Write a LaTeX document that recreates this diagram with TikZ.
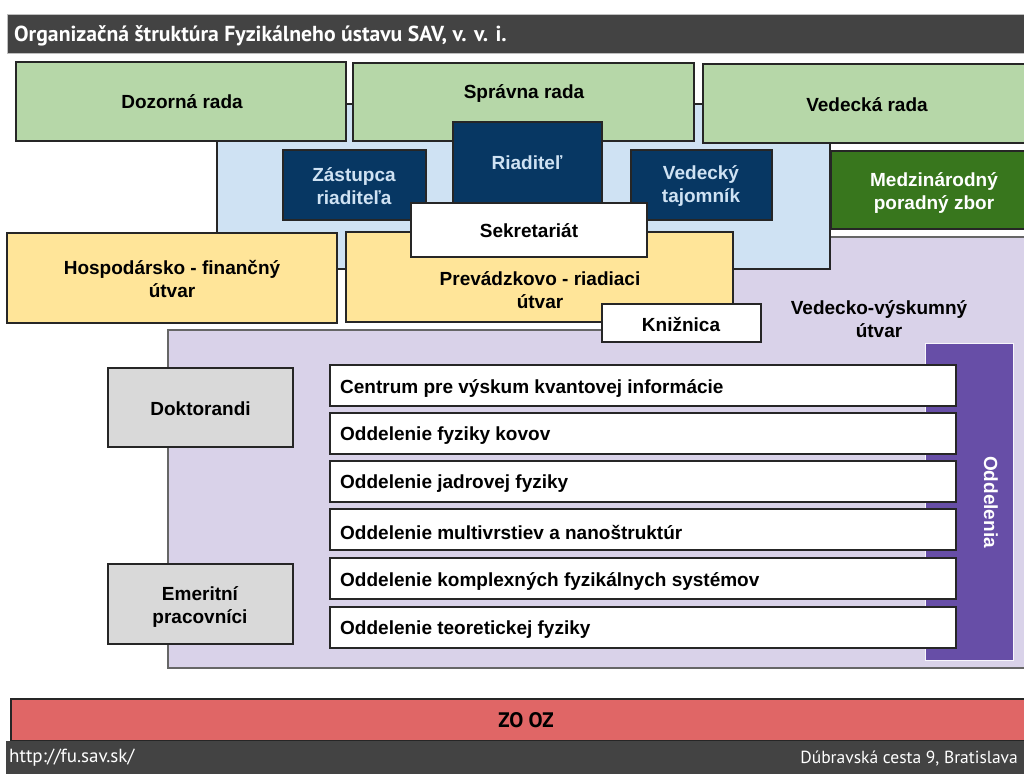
\documentclass[tikz,border=0pt]{standalone}
\usepackage{fontspec}
\setmainfont{Liberation Sans}
\newfontfamily\ubu{PT Sans}
\definecolor{darkbar}{HTML}{434343}
\definecolor{greenbox}{HTML}{B6D7A8}
\definecolor{lightblue}{HTML}{CFE2F3}
\definecolor{navy}{HTML}{073763}
\definecolor{yellowbox}{HTML}{FFE599}
\definecolor{darkgreen}{HTML}{38761D}
\definecolor{lilac}{HTML}{D9D2E9}
\definecolor{purplebar}{HTML}{674EA7}
\definecolor{graybox}{HTML}{D9D9D9}
\definecolor{redbar}{HTML}{E06666}
\definecolor{navytext}{HTML}{CFE2F3}
\begin{document}
\begin{tikzpicture}[x=1pt,y=-1pt,
  box/.style={draw=black!85, line width=1.2pt, inner sep=0pt, outer sep=0pt, anchor=north west},
  lbl/.style={font=\bfseries\fontsize{19}{23}\selectfont, align=center, inner sep=0pt},
  ubutext/.style={font=\ubu\fontsize{19}{21}\selectfont, inner sep=0pt}]
\useasboundingbox (0,0) rectangle (1024,773);
\clip (0,0) rectangle (1024,773);
\fill[white] (0,0) rectangle (1024,773);

% title bar
\node[box, fill=darkbar, draw=black!25, line width=0.6pt, minimum width=1030pt, minimum height=39pt] (titlebar) at (7,14) {};
\node[ubutext, font=\ubu\bfseries\fontsize{21.7}{23}\selectfont, anchor=base west, text=white] (title) at (14,42) {Organizačná štruktúra Fyzikálneho ústavu SAV, v. v. i.};

% lilac region
\draw[fill=lilac, draw=black!60, line width=1.2pt] (168,668) -- (168,330) -- (733,330) -- (733,237) -- (1030,237) -- (1030,668) -- cycle;

% light blue region
\node[box, fill=lightblue, minimum width=613pt, minimum height=165pt] (mgmt) at (217,104) {};

% green boards
\node[box, fill=greenbox, minimum width=330pt, minimum height=79pt] (dozorna) at (16,62) {};
\node[lbl] (dozornat) at (182,102) {Dozorná rada};
\node[box, fill=greenbox, minimum width=341pt, minimum height=78pt] (spravna) at (353,63) {};
\node[lbl] (spravnat) at (524,94) {Správna rada};
\node[box, fill=greenbox, minimum width=330pt, minimum height=79pt] (vedecka) at (703,64) {};
\node[lbl] (vedeckat) at (867,105) {Vedecká rada};

% navy boxes
\node[box, fill=navy, minimum width=143pt, minimum height=70pt] (zast) at (283,150) {};
\node[lbl, text=navytext] (zastt) at (354,186) {Zástupca\\riaditeľa};
\node[box, fill=navy, minimum width=149pt, minimum height=85pt] (riad) at (453,122) {};
\node[lbl, text=navytext] (riadt) at (527,163) {Riaditeľ};
\node[box, fill=navy, minimum width=141pt, minimum height=70pt] (tajom) at (631,150) {};
\node[lbl, text=navytext] (tajomt) at (701,186) {Vedecký\\tajomník};

% international board
\node[box, fill=darkgreen, minimum width=200pt, minimum height=78pt] (medz) at (831,151) {};
\node[lbl, text=white] (medzt) at (934,193) {Medzinárodný\\poradný zbor};

% yellow units
\node[box, fill=yellowbox, minimum width=330pt, minimum height=90pt] (hosp) at (7,233) {};
\node[lbl] (hospt) at (172,279) {Hospodársko - finančný\\útvar};
\node[box, fill=yellowbox, minimum width=387pt, minimum height=90pt] (prev) at (346,232) {};
\node[lbl] (prevt) at (540,290) {Prevádzkovo - riadiaci\\útvar};

% white boxes
\node[box, fill=white, minimum width=236pt, minimum height=54pt] (sekr) at (411,203) {};
\node[lbl] (sekrt) at (529,231) {Sekretariát};
\node[box, fill=white, minimum width=159pt, minimum height=38pt] (kniz) at (602,304) {};
\node[lbl] (knizt) at (681,324) {Knižnica};

\node[lbl] (vvu) at (879,319) {Vedecko-výskumný\\útvar};

% departments bar
\node[box, fill=purplebar, draw=white!80!lilac, line width=1pt, minimum width=88pt, minimum height=317pt] (odd) at (925,343) {};
\node[lbl, text=white, rotate=-90] (oddt) at (991,502) {Oddelenia};

\foreach \i/\yy/\t in {1/365/Centrum pre výskum kvantovej informácie,
                       2/413/Oddelenie fyziky kovov,
                       3/461/Oddelenie jadrovej fyziky,
                       4/509/Oddelenie multivrstiev a nanoštruktúr,
                       5/558/Oddelenie komplexných fyzikálnych systémov,
                       6/607/Oddelenie teoretickej fyziky}{
  \node[box, fill=white, minimum width=626pt, minimum height=41pt] (dep\i) at (330,\yy) {};
  \node[lbl, anchor=west, yshift=-2.5pt] (dept\i) at ([xshift=10pt]dep\i.west) {\t};
}

% gray boxes
\node[box, fill=graybox, minimum width=185pt, minimum height=79pt] (dokt) at (108,368) {};
\node[lbl, yshift=-1pt] (doktt) at (dokt.center) {Doktorandi};
\node[box, fill=graybox, minimum width=185pt, minimum height=80pt] (emer) at (108,564) {};
\node[lbl] (emert) at (200,607) {Emeritní\\pracovníci};

% union bar
\node[box, fill=redbar, minimum width=1030pt, minimum height=42pt] (zooz) at (11,699) {};
\node[ubutext, font=\ubu\bfseries\fontsize{21}{23}\selectfont] (zoozt) at (526,720) {ZO OZ};

% footer
\node[box, fill=darkbar, draw=none, minimum width=1030pt, minimum height=33pt] (footer) at (6,741) {};
\node[ubutext, anchor=west, text=white] (url) at (9,758) {http://fu.sav.sk/};
\node[ubutext, font=\ubu\fontsize{17.5}{20}\selectfont, anchor=east, text=white] (addr) at (1018,758) {Dúbravská cesta 9, Bratislava};
\end{tikzpicture}
\end{document}
